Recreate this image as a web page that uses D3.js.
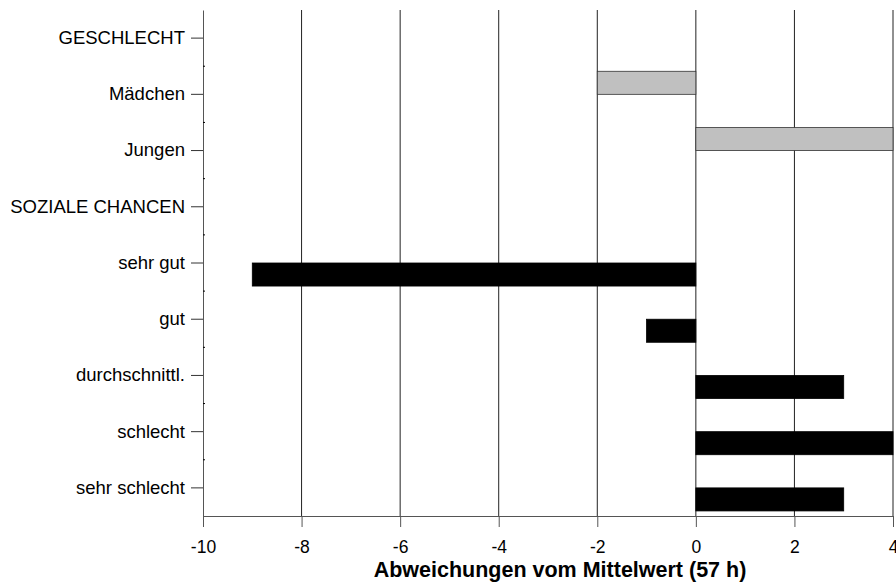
<html>
<head>
<meta charset="utf-8">
<script src="https://d3js.org/d3.v7.min.js"></script>
<style>
body { margin: 0; background: #fff; font-family: "Liberation Sans", Arial, sans-serif; }
text.label { fill: #000; font-family: "Liberation Sans", Arial, sans-serif; }
</style>
</head>
<body>
<div id="plot"></div>
<script>

var categories = ["GESCHLECHT", "Mädchen", "Jungen", "SOZIALE CHANCEN",
  "sehr gut", "gut", "durchschnittl.", "schlecht", "sehr schlecht"];
var values = [null, -2, 4, null, -9, -1, 3, 4, 3];
// which block each row belongs to (gray bars above the tick, black below)
var groups = ["head", "geschlecht", "geschlecht", "head",
  "chancen", "chancen", "chancen", "chancen", "chancen"];
var xTicks = [-10, -8, -6, -4, -2, 0, 2, 4];
var xTitle = "Abweichungen vom Mittelwert (57 h)";

var width = 896, height = 583;
var plotLeft = 203, plotRight = 893, plotTop = 10, plotBottom = 516;

var svg = d3.select("#plot").append("svg")
  .attr("width", width).attr("height", height);

var xScale = d3.scaleLinear().domain([-10, 4]).range([plotLeft, plotRight]);
var yScale = d3.scaleBand().domain(categories).range([plotTop, plotBottom]).padding(0);
var barH = yScale.bandwidth() * 0.41;

function center(c) { return yScale(c) + yScale.bandwidth() / 2; }

// vertical grid lines
svg.selectAll("line.grid").data(xTicks.slice(1)).enter()
  .append("line")
  .attr("class", "grid")
  .attr("x1", d => xScale(d)).attr("x2", d => xScale(d))
  .attr("y1", plotTop).attr("y2", plotBottom)
  .style("stroke", "#222").style("stroke-width", 1);

var rows = categories.map(function (c, i) {
  return { name: c, value: values[i], group: groups[i] };
}).filter(d => d.value !== null);

svg.selectAll("rect.bar").data(rows).enter()
  .append("rect")
  .attr("class", "bar")
  .attr("x", d => xScale(Math.min(0, d.value)))
  .attr("width", d => Math.abs(xScale(d.value) - xScale(0)))
  .attr("y", d => d.group == "geschlecht" ? center(d.name) - barH : center(d.name))
  .attr("height", barH)
  .style("fill", d => d.group == "geschlecht" ? "#c0c0c0" : "#000")
  .style("stroke", d => d.group == "geschlecht" ? "#333" : "#000")
  .style("stroke-width", 0.8);

// x axis
var xAxis = svg.append("g")
  .attr("transform", "translate(0," + plotBottom + ")")
  .call(d3.axisBottom(xScale).tickValues(xTicks).tickFormat(d => String(d))
    .tickSize(11).tickPadding(14).tickSizeOuter(0));
xAxis.select(".domain").style("stroke", "#555");
xAxis.selectAll(".tick line").style("stroke", "#555");
xAxis.selectAll("text").attr("class", "label").style("font-size", "17.5px");

// y axis
var yAxis = svg.append("g")
  .attr("transform", "translate(" + plotLeft + ",0)")
  .call(d3.axisLeft(yScale).tickSize(12).tickPadding(6).tickSizeOuter(0));
yAxis.select(".domain").style("stroke", "#555");
yAxis.selectAll(".tick line").style("stroke", "#333");
yAxis.selectAll("text").attr("class", "label").style("font-size", "18.5px");

// minor ticks between categories
svg.selectAll("line.minor").data(categories.slice(1)).enter()
  .append("line")
  .attr("class", "minor")
  .attr("x1", plotLeft).attr("x2", plotLeft + 2)
  .attr("y1", d => yScale(d)).attr("y2", d => yScale(d))
  .style("stroke", "#000");

svg.append("text")
  .attr("x", 560).attr("y", 577)
  .attr("text-anchor", "middle")
  .style("font-size", "21.5px").style("font-weight", "bold")
  .text(xTitle);

</script>
</body>
</html>
